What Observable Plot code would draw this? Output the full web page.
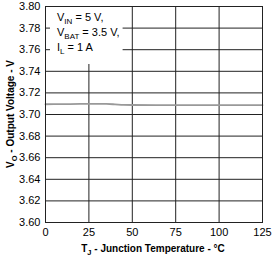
<!DOCTYPE html>
<html><head><meta charset="utf-8">
<script src="https://cdn.jsdelivr.net/npm/d3@7"></script>
<script src="https://cdn.jsdelivr.net/npm/@observablehq/plot@0.6"></script>
<style>body{margin:0;background:#fff;font-family:"Liberation Sans",Arial,sans-serif}</style>
</head><body><div id="chart"></div>
<script>
const temperature = [0, 10, 20, 25, 30, 35, 40, 45, 50, 75, 100, 125];
const voltage = [3.7095, 3.7096, 3.7098, 3.7099, 3.7099, 3.7098, 3.7094, 3.7089, 3.7088, 3.7087, 3.7087, 3.7087];
const xTicks = [0, 25, 50, 75, 100, 125];
const yTicks = [3.60, 3.62, 3.64, 3.66, 3.68, 3.70, 3.72, 3.74, 3.76, 3.78, 3.80];
const conditions = [["V", "IN", " = 5 V,"], ["V", "BAT", " = 3.5 V,"], ["I", "L", " = 1 A"]];
const xLabel = ["T", "J", " - Junction Temperature - °C"];
const yLabel = ["V", "O", " - Output Voltage - V"];

const data = temperature.map((t, i) => ({t, v: voltage[i]}));

const chart = Plot.plot({
  width: 272, height: 261,
  marginLeft: 45, marginRight: 10, marginTop: 6, marginBottom: 39,
  style: {fontFamily: "Liberation Sans, Arial, sans-serif", fontSize: "11px", color: "#000", background: "#fff"},
  x: {domain: [0, 125], ticks: xTicks, tickSize: 0, tickPadding: 6, label: null},
  y: {domain: [3.60, 3.80], ticks: yTicks, tickSize: 0, tickPadding: 5, label: null, tickFormat: d3.format(".2f")},
  marks: [
    Plot.gridX(xTicks, {stroke: "#222", strokeOpacity: 1, strokeWidth: 1}),
    Plot.gridY(yTicks, {stroke: "#222", strokeOpacity: 1, strokeWidth: 1}),
    Plot.line(data, {x: "t", y: "v", stroke: "#999", strokeWidth: 1.8, curve: "monotone-x"}),
    Plot.frame({stroke: "#222", strokeWidth: 1})
  ]
});
document.getElementById("chart").appendChild(chart);

const svg = d3.select(chart);
const sx = chart.scale("x"), sy = chart.scale("y");
const x0 = sx.apply(0), y0 = sy.apply(3.80);

function sub(sel, parts, subSize) {
  sel.append("tspan").text(parts[0]);
  sel.append("tspan").attr("font-size", subSize).attr("dy", 3).text(parts[1]);
  sel.append("tspan").attr("dy", -3).text(parts[2]);
}

// condition box
const g = svg.append("g");
const rect = g.append("rect").attr("fill", "#fff");
const tg = g.append("g").attr("text-anchor", "start");
conditions.forEach((c, i) => {
  const t = tg.append("text").attr("x", x0 + 12).attr("y", y0 + 15 + i * 15)
    .attr("font-size", 11).attr("fill", "#000");
  sub(t, c, 8);
});
const bb = tg.node().getBBox();
rect.attr("x", x0 + 5).attr("y", y0 + 1).attr("width", bb.x + bb.width + 3 - (x0 + 5)).attr("height", bb.y + bb.height + 8 - (y0 + 1));

// axis labels
const xl = svg.append("text").attr("x", 153).attr("y", 252)
  .attr("text-anchor", "middle").attr("font-weight", "bold").attr("font-size", 10);
sub(xl, xLabel, 7.5);
const yl = svg.append("text").attr("transform", `translate(14,${(sy.range[0] + sy.range[1]) / 2}) rotate(-90)`)
  .attr("text-anchor", "middle").attr("font-weight", "bold").attr("font-size", 10);
sub(yl, yLabel, 7.5);
</script></body></html>
